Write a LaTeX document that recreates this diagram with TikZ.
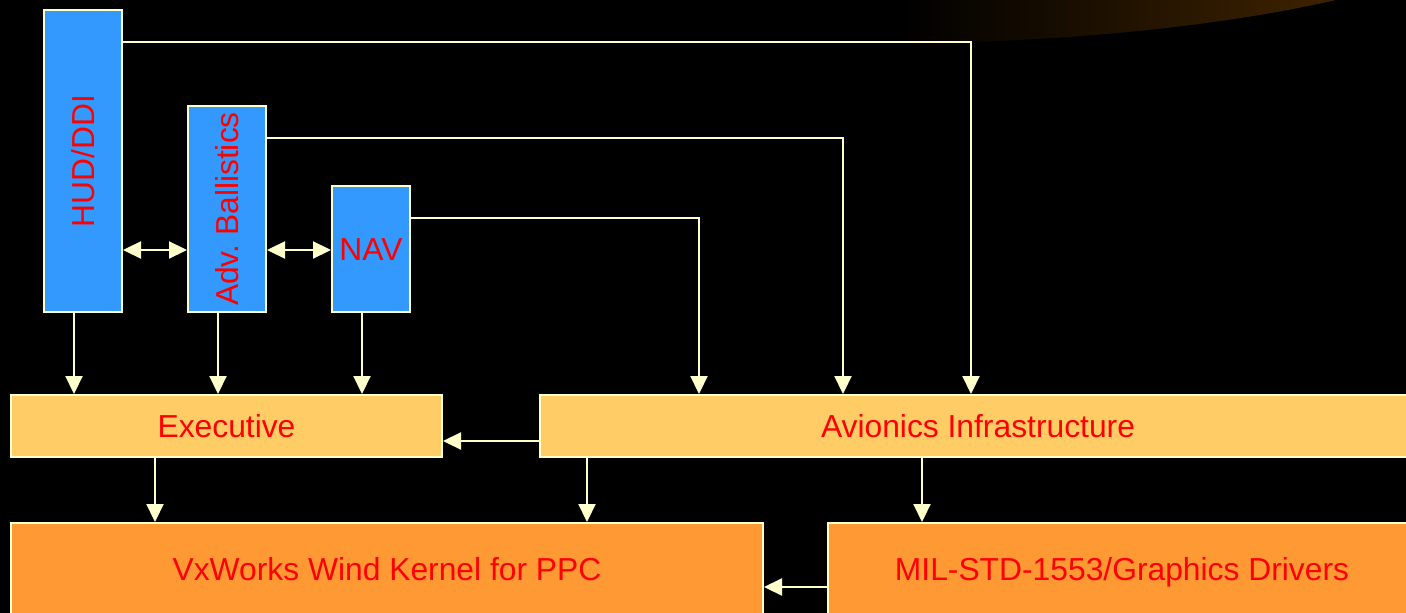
\documentclass[tikz,border=0pt]{standalone}
\usepackage{fontspec}
\setmainfont{Liberation Sans}
\usetikzlibrary{arrows.meta}
\definecolor{ln}{HTML}{FFFFCC}
\definecolor{bl}{HTML}{3399FF}
\definecolor{ex}{HTML}{FFCC66}
\definecolor{vx}{HTML}{FF9933}
\definecolor{glowc}{HTML}{3F2300}
\definecolor{txt}{HTML}{FF0000}
\frenchspacing
\tikzset{
  box/.style={draw=ln, line width=2pt, inner sep=0pt, rectangle},
  lbl/.style={text=txt, inner sep=0pt, font=\fontsize{31.8}{36}\selectfont, text height=22.8pt, text depth=0pt},
  conn/.style={draw=ln, line width=2.2pt, -{Triangle[length=18pt,width=17pt]}},
  dconn/.style={draw=ln, line width=2.2pt, {Triangle[length=18pt,width=17pt]}-{Triangle[length=18pt,width=17pt]}}
}
\begin{document}
\begin{tikzpicture}[x=1pt,y=-1pt]
\fill[black] (0,0) rectangle (1406,613);
\useasboundingbox (0,0) rectangle (1406,613);
% glow
\shade[left color=black,right color=glowc] (900,0) -- (1336,0) .. controls (1240,22) and (1100,40) .. (930,43) -- (900,43) -- cycle;
% boxes
\node[box, fill=bl, minimum width=78, minimum height=302] (hud) at (83,161) {};
\node[lbl, rotate=90] at (hud) {HUD/DDI};
\node[box, fill=bl, minimum width=78, minimum height=206] (adv) at (227,209) {};
\node[lbl, rotate=90] at (adv) {Adv. Ballistics};
\node[box, fill=bl, minimum width=78, minimum height=126] (nav) at (371,249) {};
\node[lbl] at (nav) {NAV};
\node[box, fill=ex, minimum width=431, minimum height=62] (exec) at (226.5,426) {};
\node[lbl] at (exec) {Executive};
\node[box, fill=ex, minimum width=876, minimum height=62] (avi) at (978,426) {};
\node[lbl] at (avi) {Avionics Infrastructure};
\node[box, fill=vx, minimum width=752, minimum height=92] (vx) at (387,569) {};
\node[lbl] at (vx) {VxWorks Wind Kernel for PPC};
\node[box, fill=vx, minimum width=588, minimum height=92] (mil) at (1122,569) {};
\node[lbl] at (mil) {MIL-STD-1553/Graphics Drivers};
% helper coordinates
\coordinate (y42) at (0,42);
\coordinate (y138) at (0,138);
\coordinate (y218) at (0,218);
\coordinate (y250) at (0,250);
\coordinate (y441) at (0,441);
\coordinate (y587) at (0,587);
\coordinate (x971) at (971,0);
\coordinate (x843) at (843,0);
\coordinate (x699) at (699,0);
\coordinate (x74) at (74,0);
\coordinate (x218) at (218,0);
\coordinate (x362) at (362,0);
\coordinate (x155) at (155,0);
\coordinate (x587) at (587,0);
\coordinate (x922) at (922,0);
\coordinate (k1) at (x971 |- y42);
\coordinate (k2) at (x843 |- y138);
\coordinate (k3) at (x699 |- y218);
% top connectors to Avionics
\draw[conn] (hud.east |- y42) -- (k1) -- (avi.north -| k1);
\draw[conn] (adv.east |- y138) -- (k2) -- (avi.north -| k2);
\draw[conn] (nav.east |- y218) -- (k3) -- (avi.north -| k3);
% double arrows
\draw[dconn] (hud.east |- y250) -- (adv.west |- y250);
\draw[dconn] (adv.east |- y250) -- (nav.west |- y250);
% down to executive
\draw[conn] (hud.south -| x74) -- (exec.north -| x74);
\draw[conn] (adv.south -| x218) -- (exec.north -| x218);
\draw[conn] (nav.south -| x362) -- (exec.north -| x362);
% avionics to executive
\draw[conn] (avi.west |- y441) -- (exec.east |- y441);
% down to bottom row
\draw[conn] (exec.south -| x155) -- (vx.north -| x155);
\draw[conn] (avi.south -| x587) -- (vx.north -| x587);
\draw[conn] (avi.south -| x922) -- (mil.north -| x922);
% mil to vx
\draw[conn] (mil.west |- y587) -- (vx.east |- y587);
\end{tikzpicture}
\end{document}
